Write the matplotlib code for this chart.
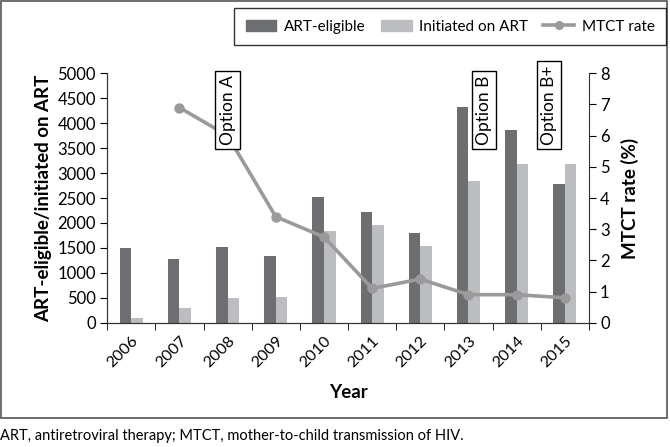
import numpy as np
import matplotlib
matplotlib.use('Agg')
import matplotlib.pyplot as plt
from matplotlib.patches import Rectangle, Patch
from matplotlib.lines import Line2D

plt.rcParams['font.family'] = ['Lato', 'DejaVu Sans']

# data
years = ['2006', '2007', '2008', '2009', '2010', '2011', '2012', '2013', '2014', '2015']
art_eligible = [1490, 1270, 1510, 1340, 2520, 2220, 1800, 4320, 3860, 2790]
initiated = [100, 300, 500, 510, 1840, 1950, 1530, 2840, 3190, 3190]
mtct_years = ['2007', '2008', '2009', '2010', '2011', '2012', '2013', '2014', '2015']
mtct_rate = [6.9, 6.0, 3.4, 2.75, 1.1, 1.4, 0.9, 0.9, 0.8]
options = ['Option A', 'Option B', 'Option B+']
option_x = [2.0, 7.32, 8.67]

dark = '#6d6e71'
light = '#bcbdc0'
line_col = '#9a9a9a'

fig = plt.figure(figsize=(6.7, 4.47), dpi=100)
ax = fig.add_axes([0.16, 0.278, 0.719, 0.558])
ax2 = ax.twinx()

x = np.arange(len(years))
w = 0.24
ax.bar(x - w / 2, art_eligible, w, color=dark, zorder=2)
ax.bar(x + w / 2, initiated, w, color=light, zorder=2)

mx = [years.index(y) for y in mtct_years]
ax2.plot(mx, mtct_rate, color=line_col, lw=2.6, marker='o', ms=6.5, zorder=3)

ax.set_xlim(-0.5, 9.5)
ax.set_ylim(0, 5000)
ax.set_yticks(np.arange(0, 5001, 500))
ax2.set_ylim(0, 8)
ax2.set_yticks(range(0, 9))

ax.set_xticks(x)
ax.set_xticklabels(years, rotation=45, ha='right', rotation_mode='anchor')
ax.set_xticks(np.arange(-0.5, 10, 1), minor=True)
ax.tick_params(axis='x', which='major', length=0, pad=8, labelsize=11.5)
ax.tick_params(axis='x', which='minor', length=5, direction='out')
ax.tick_params(axis='y', length=5, labelsize=12, pad=3)
ax2.tick_params(axis='y', length=5, labelsize=12, pad=3)

for a in (ax, ax2):
    a.spines['top'].set_visible(False)
    for s in a.spines.values():
        s.set_color('#333333')
ax.spines['right'].set_visible(False)

ax.set_ylabel('ART-eligible/initiated on ART', fontsize=13.5, fontweight='bold', labelpad=4)
ax2.set_ylabel('MTCT rate (%)', fontsize=13.5, fontweight='bold', labelpad=8)
ax.set_xlabel('Year', fontsize=13.5, fontweight='bold', labelpad=10)

# option boxes sit above the line, so they go on the twin axes
for lab, ox in zip(options, option_x):
    ax2.text(ox, 3560, lab, rotation=90, ha='center', va='bottom', fontsize=12.5,
             transform=ax.transData, clip_on=False, zorder=5,
             bbox=dict(boxstyle='square,pad=0.25', fc='white', ec='black', lw=1))

handles = [Patch(color=dark), Patch(color=light),
           Line2D([0], [0], color=line_col, lw=2.6, marker='o', ms=5.5)]
leg = fig.legend(handles, ['ART-eligible', 'Initiated on ART', 'MTCT rate'],
                 loc='center', bbox_to_anchor=(0.672, 0.94), ncol=3, fontsize=11,
                 frameon=True, fancybox=False, edgecolor='black', handlelength=2.0,
                 columnspacing=1.0, handletextpad=0.5, borderpad=0.75)
leg.get_frame().set_linewidth(1)

fig.patches.append(Rectangle((0.002, 0.065), 0.993, 0.933, transform=fig.transFigure,
                             fill=False, ec='#555555', lw=1.2))
fig.text(0.0, 0.025, 'ART, antiretroviral therapy; MTCT, mother-to-child transmission of HIV.',
         fontsize=10.5, ha='left', va='center')

fig.savefig('out.png', dpi=100)
